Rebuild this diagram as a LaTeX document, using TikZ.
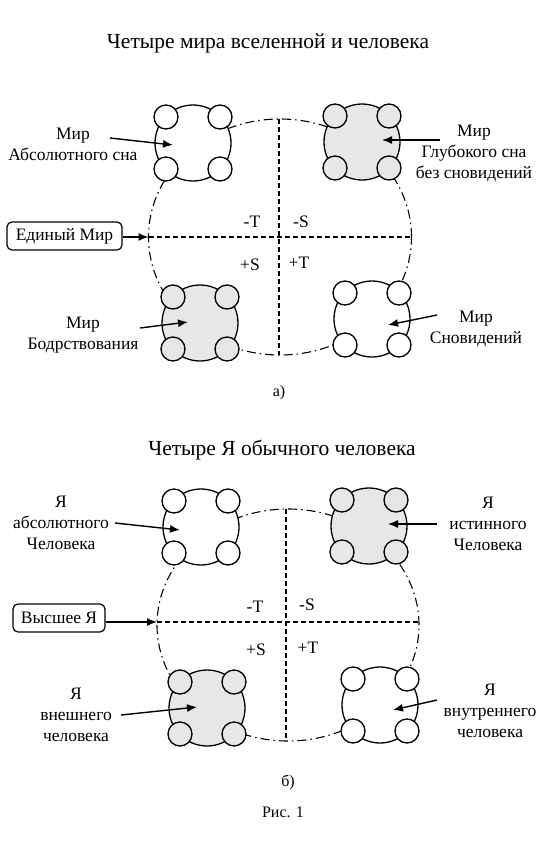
\documentclass[tikz,border=0pt]{standalone}
\usepackage{fontspec}
\setmainfont{Liberation Serif}
\usetikzlibrary{arrows.meta}
\definecolor{fillg}{RGB}{231,231,231}
\tikzset{
  bigc/.style={circle, draw, line width=1.3pt, minimum size=76pt, inner sep=0pt},
  smallc/.style={circle, draw, line width=1.3pt, minimum size=24pt, inner sep=0pt},
  ell/.style={line width=1.1pt, dash pattern=on 9pt off 4pt on 1.5pt off 4pt},
  axisl/.style={line width=1.5pt, dash pattern=on 5pt off 3pt},
  lbl/.style={font=\fontsize{17.5}{21}\selectfont, align=center, inner sep=0pt},
  ttl/.style={font=\fontsize{21.5}{24}\selectfont, inner sep=0pt},
  captxt/.style={font=\fontsize{16}{18}\selectfont, inner sep=0pt},
  arr/.style={-{Latex[length=10pt,width=8pt]}, line width=1.4pt},
  boxn/.style={draw, rounded corners=5pt, line width=1.2pt, font=\fontsize{17.5}{21}\selectfont, inner xsep=4pt, minimum height=28pt}
}
\newcommand{\mycluster}[4]{%
  \node[bigc, fill=#4] (#1) at (#2,#3) {};
  \foreach \dx/\dy/\s in {-27/-26/a,27/-26/b,-27/26/c,27/26/d}
    \node[smallc, fill=#4] (#1\s) at ([shift={(\dx,\dy)}]#1.center) {};
}
\begin{document}
\begin{tikzpicture}[x=1pt,y=-1pt]
\useasboundingbox (0,0) rectangle (549,847);
\fill[white] (0,0) rectangle (549,847);

% ===== Top diagram =====
\node[ttl] (title1) at (268,43) {Четыре мира вселенной и человека};

\draw[ell] (280,237) ellipse [x radius=131.5pt, y radius=118pt];
\coordinate (t1top) at (279,119);
\coordinate (t1bot) at (279,355);
\coordinate (t1left) at (148.5,237);
\coordinate (t1right) at (411.5,237);
\draw[axisl] (t1top) -- (t1bot);
\draw[axisl] (t1left) -- (t1right);

\mycluster{cA}{193}{143}{white}
\mycluster{cB}{362}{142}{fillg}
\mycluster{cC}{200}{323}{fillg}
\mycluster{cD}{372}{319}{white}

\node[lbl] (lA) at (73,144) {Мир\\Абсолютного сна};
\node[lbl] (lB) at (474,153) {Мир\\Глубокого сна\\без сновидений};
\node[lbl] (lC) at (83,335) {Мир\\Бодрствования};
\node[lbl] (lD) at (476,329) {Мир\\Сновидений};

\coordinate (aAs) at (110,138); \coordinate (aAe) at (173,145);
\coordinate (aBs) at (440,140); \coordinate (aBe) at (382,140);
\coordinate (aCs) at (140,328); \coordinate (aCe) at (188,322);
\coordinate (aDs) at (437,315); \coordinate (aDe) at (388,325);
\draw[arr] (aAs) -- (aAe);
\draw[arr] (aBs) -- (aBe);
\draw[arr] (aCs) -- (aCe);
\draw[arr] (aDs) -- (aDe);

\node[boxn, minimum width=115pt] (edin) at (64.5,236) {Единый Мир};
\draw[arr] (edin.east |- t1left) -- (t1left);

\node[lbl] (mT1) at (252,222) {-T};
\node[lbl] (pS1) at (250,265) {+S};
\node[lbl] (mS1) at (301,222) {-S};
\node[lbl] (pT1) at (299,263) {+T};

\node[captxt] (capa) at (279,393) {а)};

% ===== Bottom diagram =====
\node[ttl] (title2) at (282,450) {Четыре Я обычного человека};

\draw[ell] (288,625) ellipse [x radius=131pt, y radius=116pt];
\coordinate (t2top) at (286,509);
\coordinate (t2bot) at (286,741);
\coordinate (t2left) at (157,622);
\coordinate (t2right) at (419,622);
\draw[axisl] (t2top) -- (t2bot);
\draw[axisl] (t2left) -- (t2right);

\mycluster{dA}{201}{527}{white}
\mycluster{dB}{369}{526}{fillg}
\mycluster{dC}{207}{708}{fillg}
\mycluster{dD}{380}{705}{white}

\node[lbl] (mA) at (61,523) {Я\\абсолютного\\Человека};
\node[lbl] (mB) at (488,524) {Я\\истинного\\Человека};
\node[lbl] (mC) at (76,715) {Я\\внешнего\\человека};
\node[lbl] (mD) at (490,711) {Я\\внутреннего\\человека};

\coordinate (bAs) at (115,523); \coordinate (bAe) at (180,530);
\coordinate (bBs) at (437,524); \coordinate (bBe) at (388,524);
\coordinate (bCs) at (121,715); \coordinate (bCe) at (197,707);
\coordinate (bDs) at (437,700); \coordinate (bDe) at (393,710);
\draw[arr] (bAs) -- (bAe);
\draw[arr] (bBs) -- (bBe);
\draw[arr] (bCs) -- (bCe);
\draw[arr] (bDs) -- (bDe);

\node[boxn, minimum width=92pt] (vys) at (59,618) {Высшее Я};
\draw[arr] (vys.east |- t2left) -- (t2left);

\node[lbl] (mT2) at (255,607) {-T};
\node[lbl] (pS2) at (256,650) {+S};
\node[lbl] (mS2) at (307,605) {-S};
\node[lbl] (pT2) at (308,648) {+T};

\node[captxt] (capb) at (288,782) {б)};
\node[captxt] (ris) at (283,812) {Рис. 1};
\end{tikzpicture}
\end{document}
